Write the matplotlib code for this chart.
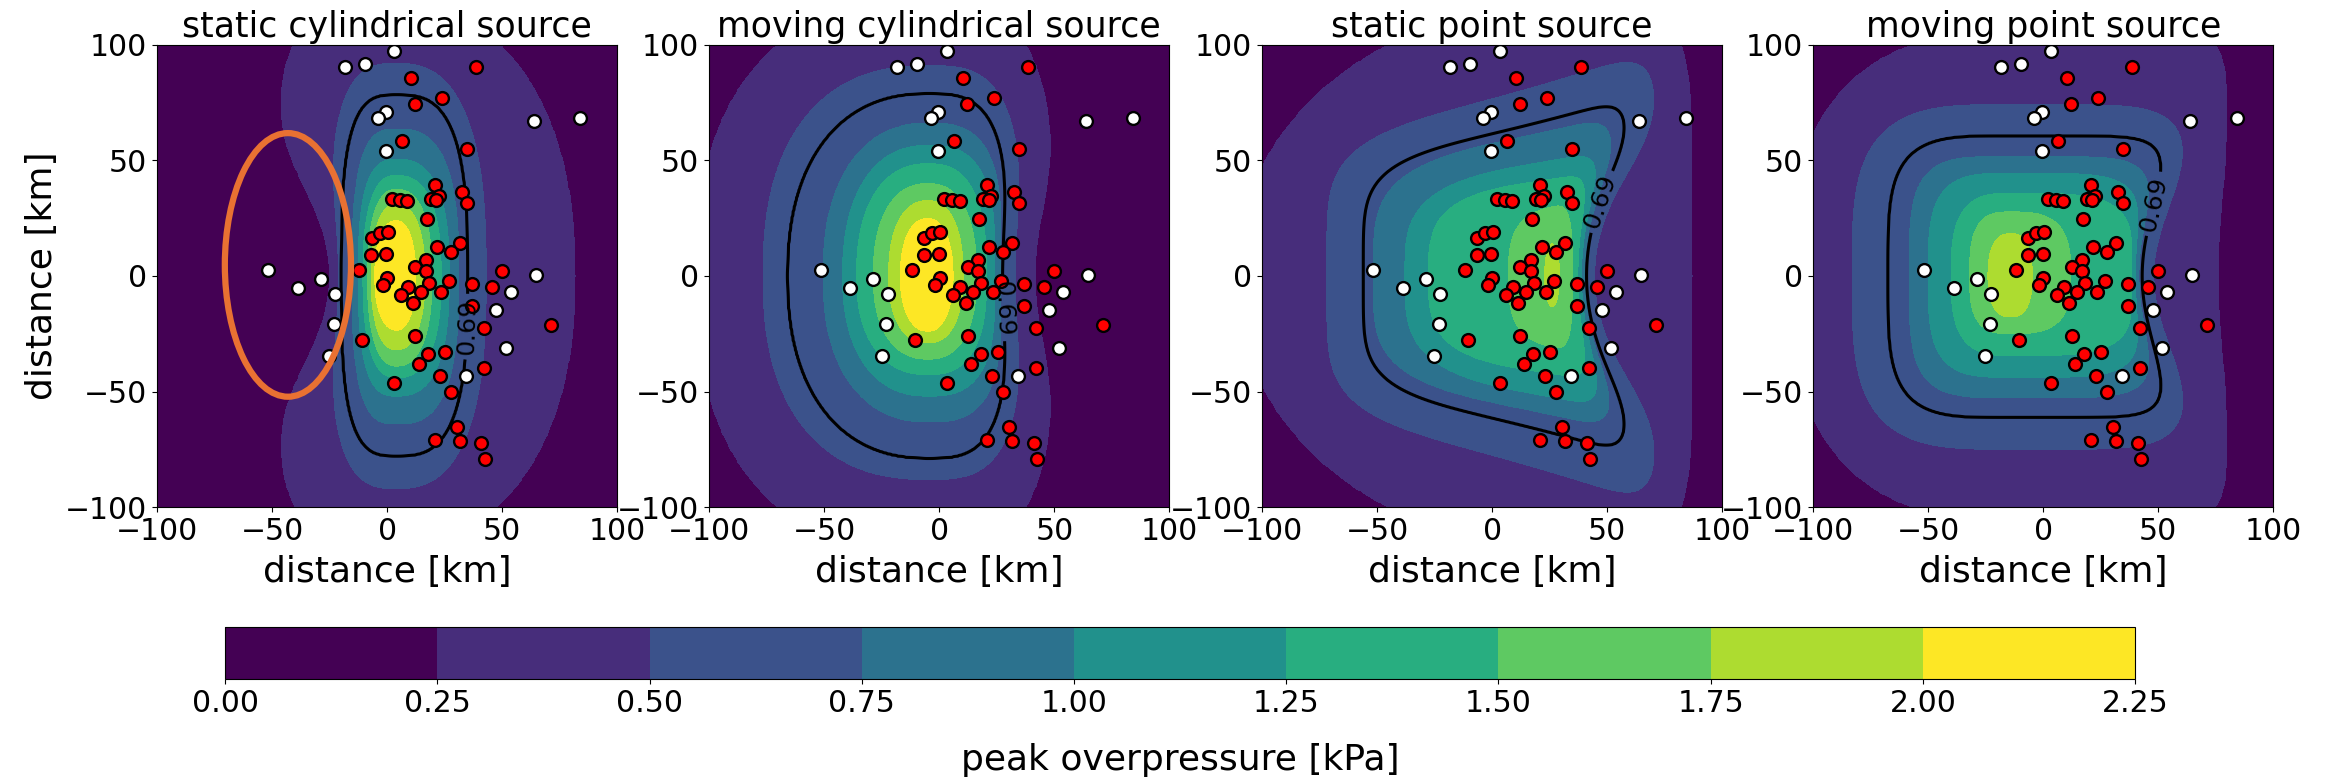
from __future__ import annotations

import matplotlib

matplotlib.use("Agg")
import matplotlib.pyplot as plt
import numpy as np
from matplotlib.colors import Normalize
from matplotlib.patches import Ellipse

# colour levels of the filled contours and the single black isoline
LEVELS = [0.0, 0.25, 0.5, 0.75, 1.0, 1.25, 1.5, 1.75, 2.0, 2.25]
LINE_LEVEL = 0.69
TICKS = [-100, -50, 0, 50, 100]
TITLES = [
    "static cylindrical source",
    "moving cylindrical source",
    "static point source",
    "moving point source",
]

# station positions (km), identical in every panel
WHITE_X = [3.2, -18.5, -9.7, -0.6, -3.8, 63.8, 84.0, -0.4, -51.6, -38.8,
           -28.9, -22.5, -23.1, -25.1, 64.7, 53.9, 47.5, 51.8, 34.1]
WHITE_Y = [97.3, 90.4, 91.8, 70.8, 68.6, 67.3, 68.6, 54.3, 2.7, -5.3,
           -1.4, -7.8, -20.6, -34.8, 0.6, -6.9, -14.7, -31.0, -43.5]
RED_X = [38.6, 10.3, 23.7, 12.0, 6.6, 34.5, 20.9, 32.6, 22.5, 18.9,
         21.4, 34.7, 2.0, 5.6, 8.8, 17.3, -6.6, -3.3, 0.4, 31.6,
         21.8, 27.6, -6.8, -0.3, 16.9, 12.3, 16.8, -12.0, 0.1, -1.9,
         18.3, 26.7, 9.1, 6.1, 14.6, 23.2, 11.4, 36.7, 45.5, 50.0,
         36.7, 42.0, 71.2, -10.7, 12.3, 17.9, 25.3, 13.9, 23.0, 3.2,
         27.6, 42.0, 30.2, 20.8, 31.6, 41.0, 42.6]
RED_Y = [90.4, 85.8, 77.0, 74.5, 58.3, 54.9, 39.6, 36.5, 34.8, 33.5,
         33.1, 31.6, 33.5, 33.1, 32.5, 24.7, 16.3, 18.6, 18.9, 14.4,
         12.4, 10.4, 9.0, 9.4, 6.9, 3.9, 2.2, 2.6, -0.7, -3.9,
         -2.9, -2.3, -4.8, -8.4, -6.9, -6.9, -11.8, -3.5, -4.8, 2.2,
         -13.0, -22.5, -21.1, -27.6, -26.0, -33.9, -33.1, -38.3, -43.3, -46.2,
         -50.3, -39.9, -65.4, -70.9, -71.5, -72.5, -79.4]

# contour outlines, distances in km from the peak:
# level, right at y=0, right off-axis, up, left at y=0, left off-axis, down,
# squareness right, squareness left, widening of the up/down extent towards +x
STATIC_CYL_CENTRE = (4.0, 0.0)
STATIC_CYL_PEAK = 2.2
STATIC_CYL = [
    [2.00, 8.5, 8.5, 24.0, 9.5, 9.5, 23.5, 2.2, 2.2, 0.0],
    [1.75, 12.5, 12.5, 31.0, 11.0, 11.0, 32.0, 2.3, 2.3, 0.0],
    [1.50, 15.5, 15.5, 37.5, 12.5, 12.5, 39.0, 2.4, 2.4, 0.0],
    [1.25, 19.5, 19.5, 43.5, 14.5, 14.5, 44.0, 2.5, 2.5, 0.0],
    [1.00, 23.0, 23.0, 50.5, 16.5, 16.5, 52.0, 2.6, 2.8, 0.0],
    [0.75, 27.0, 27.0, 63.5, 19.0, 19.0, 64.0, 2.8, 3.0, 0.0],
    [0.69, 31.0, 31.0, 78.5, 24.0, 24.0, 78.0, 3.0, 3.2, 0.0],
    [0.50, 39.0, 39.0, 92.0, 25.0, 30.0, 92.0, 2.6, 3.0, 0.0],
    [0.25, 78.0, 78.0, 118.0, 29.0, 54.0, 116.0, 2.2, 4.0, 0.0],
]

MOVING_CYL_CENTRE = (-5.0, 0.0)
MOVING_CYL_PEAK = 2.2
MOVING_CYL = [
    [2.00, 11.0, 11.0, 25.0, 12.0, 12.0, 24.0, 2.2, 2.2, 0.0],
    [1.75, 15.4, 15.4, 32.6, 17.0, 17.0, 29.0, 2.3, 2.3, 0.0],
    [1.50, 21.2, 21.2, 40.0, 23.7, 23.7, 36.0, 2.4, 2.3, 0.0],
    [1.25, 25.6, 25.6, 48.6, 31.0, 31.0, 42.7, 2.6, 2.3, 0.0],
    [1.00, 29.2, 31.0, 56.5, 37.0, 37.0, 52.0, 2.8, 2.3, 0.0],
    [0.75, 31.4, 34.0, 66.0, 45.4, 45.4, 63.0, 3.0, 2.3, 0.0],
    [0.69, 32.5, 36.0, 79.0, 61.0, 61.0, 79.0, 3.2, 2.3, 0.0],
    [0.50, 38.0, 42.0, 91.0, 71.5, 71.5, 88.0, 3.2, 2.4, 0.0],
    [0.25, 46.6, 57.0, 120.0, 101.0, 101.0, 120.0, 3.0, 2.4, 0.0],
]

STATIC_PT_CENTRE = (26.0, 0.0)
STATIC_PT_PEAK = 1.85
STATIC_PT = [
    [1.75, 3.3, 3.3, 14.0, 3.2, 3.2, 13.4, 2.0, 2.0, 0.0],
    [1.50, 9.0, 10.0, 30.0, 19.0, 19.0, 30.8, 3.0, 3.0, 0.8],
    [1.25, 11.3, 22.0, 42.0, 53.7, 53.7, 42.3, 5.0, 3.5, 0.35],
    [1.00, 12.8, 28.0, 50.0, 63.9, 63.9, 52.5, 5.0, 3.5, 0.35],
    [0.75, 14.0, 33.0, 63.0, 77.6, 77.6, 60.0, 5.0, 4.0, 0.35],
    [0.69, 15.0, 37.5, 68.0, 82.0, 82.0, 68.0, 6.0, 5.0, 0.38],
    [0.50, 18.4, 48.0, 84.0, 97.8, 97.8, 85.0, 6.0, 5.0, 0.35],
    [0.25, 61.0, 61.0, 117.0, 138.0, 138.0, 117.0, 6.0, 2.0, 0.0],
]

MOVING_PT_CENTRE = (-14.0, 0.0)
MOVING_PT_PEAK = 1.9
MOVING_PT = [
    [1.75, 9.2, 9.2, 18.4, 10.0, 10.0, 17.8, 2.5, 2.5, 0.0],
    [1.50, 26.0, 26.0, 27.8, 18.0, 18.0, 25.0, 3.0, 3.0, 0.0],
    [1.25, 52.7, 55.0, 35.8, 26.0, 26.0, 34.5, 4.0, 3.0, 0.0],
    [1.00, 54.0, 60.0, 44.5, 36.0, 36.0, 43.9, 5.0, 3.5, 0.0],
    [0.75, 55.5, 66.0, 51.7, 44.0, 44.0, 52.6, 6.0, 4.0, 0.0],
    [0.69, 57.0, 70.0, 60.7, 53.5, 53.5, 61.3, 8.0, 4.0, 0.0],
    [0.50, 62.0, 80.0, 74.2, 69.0, 69.0, 75.0, 6.0, 3.5, 0.0],
    [0.25, 90.0, 94.0, 106.0, 97.0, 97.0, 106.0, 12.0, 2.5, 0.0],
]

# where the "0.69" label sits on each isoline
LABEL_AT = [(37.0, -22.0), (28.0, -14.0), (45.0, 33.0), (45.0, 32.0)]


def build_field(x, y, centre, peak, table, width=40.0):
    """Turn the read contour outlines into a smooth pressure surface."""
    X, Y = np.meshgrid(x, y)
    dx = X - centre[0]
    dy = Y - centre[1]
    right = dx >= 0
    near_axis = np.exp(-(dy / width) ** 2)

    logs = []
    for level, r0, rf, up, l0, lf, down, pr, pl, flare in table:
        far = np.where(right, rf, lf)
        near = np.where(right, r0, l0)
        p = np.where(right, pr, pl)
        ax = np.abs(dx) * (1 + (far / near - 1) * near_axis) / far
        ay = np.abs(dy) / (np.where(dy >= 0, up, down) * np.exp(flare * dx / 100))
        s = (ax ** p + ay ** p) ** (1 / p)
        logs.append(np.log(np.maximum(s, 1e-6)))
    logs = np.minimum.accumulate(np.array(logs), axis=0)
    levels = [row[0] for row in table]

    z = np.zeros_like(X)
    a = logs[0]
    m = a <= 0
    z[m] = levels[0] + (peak - levels[0]) * (1 - np.exp(2 * a[m]))
    for i in range(len(levels) - 1):
        a_in, a_out = logs[i], logs[i + 1]
        m = (a_in > 0) & (a_out <= 0)
        t = -a_out[m] / np.maximum(a_in[m] - a_out[m], 1e-9)
        z[m] = levels[i + 1] + (levels[i] - levels[i + 1]) * t
    a = logs[-1]
    m = a > 0
    z[m] = levels[-1] * np.clip(1 - a[m] / 0.3, 0.05, 0.95)
    return z


def main() -> None:
    plt.rcParams["font.family"] = ["DejaVu Sans"]
    fig = plt.figure(figsize=(23.25, 7.78), dpi=100)

    x = np.linspace(-100, 100, 401)
    y = np.linspace(-100, 100, 401)
    fields = [
        build_field(x, y, STATIC_CYL_CENTRE, STATIC_CYL_PEAK, STATIC_CYL),
        build_field(x, y, MOVING_CYL_CENTRE, MOVING_CYL_PEAK, MOVING_CYL),
        build_field(x, y, STATIC_PT_CENTRE, STATIC_PT_PEAK, STATIC_PT),
        build_field(x, y, MOVING_PT_CENTRE, MOVING_PT_PEAK, MOVING_PT),
    ]
    # band colours run from the first to the last viridis colour
    norm = Normalize(vmin=0.125, vmax=2.125)

    lefts = [0.0675, 0.305, 0.5428, 0.7798]
    cf = None
    for i, (z, title) in enumerate(zip(fields, TITLES)):
        ax = fig.add_axes([lefts[i], 0.3483, 0.1980, 0.5939])
        cf = ax.contourf(x, y, z, levels=LEVELS, cmap="viridis", norm=norm)
        cs = ax.contour(x, y, z, levels=[LINE_LEVEL], colors="k", linewidths=2.2)
        ax.clabel(cs, fmt="%.2f", fontsize=18, inline=True, manual=[LABEL_AT[i]])
        ax.scatter(WHITE_X, WHITE_Y, s=85, c="white", edgecolors="k",
                   linewidths=1.7, zorder=3)
        ax.scatter(RED_X, RED_Y, s=85, c="red", edgecolors="k",
                   linewidths=1.7, zorder=3)
        if i == 0:
            ax.add_patch(Ellipse((-43.1, 4.8), 54.8, 114.1, fill=False,
                                 edgecolor="#e97132", linewidth=4.5, zorder=4))
            ax.set_ylabel("distance [km]", fontsize=26)
        ax.set_xlim(-100, 100)
        ax.set_ylim(-100, 100)
        ax.set_xticks(TICKS)
        ax.set_yticks(TICKS)
        ax.tick_params(labelsize=21.5)
        ax.set_xlabel("distance [km]", fontsize=26, labelpad=7)
        ax.set_title(title, fontsize=25)

    cax = fig.add_axes([0.0968, 0.1272, 0.8215, 0.0668])
    cb = fig.colorbar(cf, cax=cax, orientation="horizontal", ticks=LEVELS)
    cb.ax.set_xticklabels([f"{v:.2f}" for v in LEVELS])
    cb.ax.tick_params(labelsize=21.5)
    cb.set_label("peak overpressure [kPa]", fontsize=26, labelpad=18)

    fig.savefig("out.png", dpi=100)
    plt.close(fig)


if __name__ == "__main__":
    main()
